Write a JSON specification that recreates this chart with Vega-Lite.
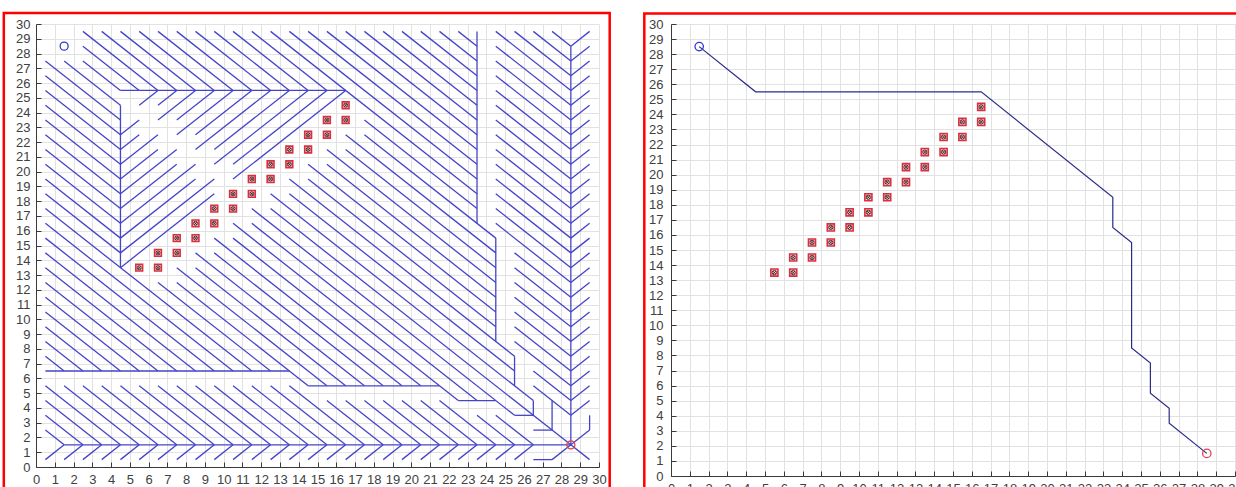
{
  "$schema": "https://vega.github.io/schema/vega-lite/v6.json",
  "background": "white",
  "padding": {"left": 2, "top": 11, "right": 0, "bottom": 0},
  "spacing": 32,
  "config": {
    "view": {"stroke": null},
    "axis": {
      "grid": true, "gridColor": "#e2e2e2", "gridWidth": 1, "tickCount": 30,
      "domainColor": "#3a3a3a", "tickColor": "#3a3a3a", "tickSize": -5,
      "labelColor": "#404040", "labelFont": "Liberation Sans", "labelFontSize": 13,
      "labelFlush": false, "labelOverlap": false, "title": null, "format": "d"
    }
  },
  "datasets": {
    "seg": [
      {"x":2.5,"y":29.5,"x2":6.5,"y2":25.5},{"x":3.5,"y":29.5,"x2":7.5,"y2":25.5},{"x":4.5,"y":29.5,"x2":8.5,"y2":25.5},
      {"x":5.5,"y":29.5,"x2":9.5,"y2":25.5},{"x":6.5,"y":29.5,"x2":10.5,"y2":25.5},{"x":7.5,"y":29.5,"x2":11.5,"y2":25.5},
      {"x":8.5,"y":29.5,"x2":12.5,"y2":25.5},{"x":9.5,"y":29.5,"x2":13.5,"y2":25.5},{"x":10.5,"y":29.5,"x2":14.5,"y2":25.5},
      {"x":11.5,"y":29.5,"x2":15.5,"y2":25.5},{"x":12.5,"y":29.5,"x2":23.5,"y2":18.5},{"x":13.5,"y":29.5,"x2":23.5,"y2":19.5},
      {"x":14.5,"y":29.5,"x2":23.5,"y2":20.5},{"x":15.5,"y":29.5,"x2":23.5,"y2":21.5},{"x":16.5,"y":29.5,"x2":23.5,"y2":22.5},
      {"x":17.5,"y":29.5,"x2":23.5,"y2":23.5},{"x":18.5,"y":29.5,"x2":23.5,"y2":24.5},{"x":19.5,"y":29.5,"x2":23.5,"y2":25.5},
      {"x":20.5,"y":29.5,"x2":23.5,"y2":26.5},{"x":21.5,"y":29.5,"x2":23.5,"y2":27.5},{"x":22.5,"y":29.5,"x2":23.5,"y2":28.5},
      {"x":24.5,"y":29.5,"x2":28.5,"y2":25.5},{"x":25.5,"y":29.5,"x2":28.5,"y2":26.5},{"x":26.5,"y":29.5,"x2":28.5,"y2":27.5},
      {"x":27.5,"y":29.5,"x2":28.5,"y2":28.5},{"x":29.5,"y":29.5,"x2":28.5,"y2":28.5},
      {"x":2.5,"y":28.5,"x2":5.5,"y2":25.5},{"x":2.5,"y":27.5,"x2":4.5,"y2":25.5},{"x":1.5,"y":27.5,"x2":4.5,"y2":24.5},
      {"x":0.5,"y":27.5,"x2":4.5,"y2":23.5},{"x":0.5,"y":26.5,"x2":4.5,"y2":22.5},{"x":0.5,"y":25.5,"x2":4.5,"y2":21.5},
      {"x":0.5,"y":24.5,"x2":4.5,"y2":20.5},{"x":0.5,"y":23.5,"x2":4.5,"y2":19.5},{"x":0.5,"y":22.5,"x2":4.5,"y2":18.5},
      {"x":0.5,"y":21.5,"x2":4.5,"y2":17.5},{"x":0.5,"y":20.5,"x2":4.5,"y2":16.5},{"x":0.5,"y":19.5,"x2":4.5,"y2":15.5},
      {"x":0.5,"y":18.5,"x2":4.5,"y2":14.5},{"x":0.5,"y":17.5,"x2":11.5,"y2":6.5},{"x":0.5,"y":16.5,"x2":10.5,"y2":6.5},
      {"x":0.5,"y":15.5,"x2":9.5,"y2":6.5},{"x":0.5,"y":14.5,"x2":8.5,"y2":6.5},{"x":0.5,"y":13.5,"x2":7.5,"y2":6.5},
      {"x":0.5,"y":12.5,"x2":6.5,"y2":6.5},{"x":0.5,"y":11.5,"x2":5.5,"y2":6.5},{"x":0.5,"y":10.5,"x2":4.5,"y2":6.5},
      {"x":0.5,"y":9.5,"x2":3.5,"y2":6.5},{"x":0.5,"y":8.5,"x2":2.5,"y2":6.5},{"x":0.5,"y":7.5,"x2":1.5,"y2":6.5},
      {"x":4.5,"y":24.5,"x2":4.5,"y2":13.5},{"x":4.5,"y":25.5,"x2":16.5,"y2":25.5},
      {"x":5.5,"y":23.5,"x2":4.5,"y2":22.5},{"x":5.5,"y":22.5,"x2":4.5,"y2":21.5},{"x":6.5,"y":22.5,"x2":4.5,"y2":20.5},
      {"x":6.5,"y":21.5,"x2":4.5,"y2":19.5},{"x":7.5,"y":21.5,"x2":4.5,"y2":18.5},{"x":7.5,"y":20.5,"x2":4.5,"y2":17.5},
      {"x":8.5,"y":20.5,"x2":4.5,"y2":16.5},{"x":8.5,"y":19.5,"x2":4.5,"y2":15.5},{"x":9.5,"y":19.5,"x2":4.5,"y2":14.5},
      {"x":9.5,"y":18.5,"x2":4.5,"y2":13.5},
      {"x":5.5,"y":24.5,"x2":6.5,"y2":25.5},{"x":6.5,"y":24.5,"x2":7.5,"y2":25.5},{"x":6.5,"y":23.5,"x2":8.5,"y2":25.5},
      {"x":7.5,"y":23.5,"x2":9.5,"y2":25.5},{"x":7.5,"y":22.5,"x2":10.5,"y2":25.5},{"x":8.5,"y":22.5,"x2":11.5,"y2":25.5},
      {"x":8.5,"y":21.5,"x2":12.5,"y2":25.5},{"x":9.5,"y":21.5,"x2":13.5,"y2":25.5},{"x":9.5,"y":20.5,"x2":14.5,"y2":25.5},
      {"x":10.5,"y":20.5,"x2":15.5,"y2":25.5},{"x":10.5,"y":19.5,"x2":16.5,"y2":25.5},
      {"x":6.5,"y":12.5,"x2":12.5,"y2":6.5},{"x":7.5,"y":12.5,"x2":14.5,"y2":5.5},{"x":7.5,"y":13.5,"x2":15.5,"y2":5.5},
      {"x":8.5,"y":13.5,"x2":16.5,"y2":5.5},{"x":8.5,"y":14.5,"x2":17.5,"y2":5.5},{"x":9.5,"y":14.5,"x2":18.5,"y2":5.5},
      {"x":9.5,"y":15.5,"x2":19.5,"y2":5.5},{"x":10.5,"y":15.5,"x2":20.5,"y2":5.5},{"x":10.5,"y":16.5,"x2":22.5,"y2":4.5},
      {"x":11.5,"y":16.5,"x2":23.5,"y2":4.5},{"x":11.5,"y":17.5,"x2":25.5,"y2":3.5},{"x":12.5,"y":17.5,"x2":28.5,"y2":1.5},
      {"x":12.5,"y":18.5,"x2":26.5,"y2":4.5},{"x":13.5,"y":18.5,"x2":25.5,"y2":6.5},{"x":13.5,"y":19.5,"x2":25.5,"y2":7.5},
      {"x":14.5,"y":19.5,"x2":24.5,"y2":9.5},{"x":14.5,"y":20.5,"x2":24.5,"y2":10.5},{"x":15.5,"y":20.5,"x2":24.5,"y2":11.5},
      {"x":15.5,"y":21.5,"x2":24.5,"y2":12.5},{"x":16.5,"y":21.5,"x2":24.5,"y2":13.5},{"x":16.5,"y":22.5,"x2":24.5,"y2":14.5},
      {"x":17.5,"y":22.5,"x2":24.5,"y2":15.5},{"x":17.5,"y":23.5,"x2":23.5,"y2":17.5},
      {"x":23.5,"y":29.5,"x2":23.5,"y2":16.5},{"x":24.5,"y":15.5,"x2":24.5,"y2":8.5},{"x":25.5,"y":7.5,"x2":25.5,"y2":5.5},
      {"x":26.5,"y":4.5,"x2":26.5,"y2":3.5},{"x":0.5,"y":6.5,"x2":13.5,"y2":6.5},{"x":14.5,"y":5.5,"x2":21.5,"y2":5.5},
      {"x":22.5,"y":4.5,"x2":24.5,"y2":4.5},{"x":25.5,"y":3.5,"x2":26.5,"y2":3.5},
      {"x":24.5,"y":28.5,"x2":28.5,"y2":24.5},{"x":24.5,"y":27.5,"x2":28.5,"y2":23.5},{"x":24.5,"y":26.5,"x2":28.5,"y2":22.5},
      {"x":24.5,"y":25.5,"x2":28.5,"y2":21.5},{"x":24.5,"y":24.5,"x2":28.5,"y2":20.5},{"x":24.5,"y":23.5,"x2":28.5,"y2":19.5},
      {"x":24.5,"y":22.5,"x2":28.5,"y2":18.5},{"x":24.5,"y":21.5,"x2":28.5,"y2":17.5},{"x":24.5,"y":20.5,"x2":28.5,"y2":16.5},
      {"x":24.5,"y":19.5,"x2":28.5,"y2":15.5},{"x":24.5,"y":18.5,"x2":28.5,"y2":14.5},{"x":24.5,"y":17.5,"x2":28.5,"y2":13.5},
      {"x":24.5,"y":16.5,"x2":28.5,"y2":12.5},
      {"x":25.5,"y":14.5,"x2":28.5,"y2":11.5},{"x":25.5,"y":13.5,"x2":28.5,"y2":10.5},{"x":25.5,"y":12.5,"x2":28.5,"y2":9.5},
      {"x":25.5,"y":11.5,"x2":28.5,"y2":8.5},{"x":25.5,"y":10.5,"x2":28.5,"y2":7.5},{"x":25.5,"y":9.5,"x2":28.5,"y2":6.5},
      {"x":25.5,"y":8.5,"x2":28.5,"y2":5.5},{"x":26.5,"y":6.5,"x2":28.5,"y2":4.5},{"x":26.5,"y":5.5,"x2":28.5,"y2":3.5},
      {"x":29.5,"y":28.5,"x2":28.5,"y2":27.5},{"x":29.5,"y":27.5,"x2":28.5,"y2":26.5},{"x":29.5,"y":26.5,"x2":28.5,"y2":25.5},
      {"x":29.5,"y":25.5,"x2":28.5,"y2":24.5},{"x":29.5,"y":24.5,"x2":28.5,"y2":23.5},{"x":29.5,"y":23.5,"x2":28.5,"y2":22.5},
      {"x":29.5,"y":22.5,"x2":28.5,"y2":21.5},{"x":29.5,"y":21.5,"x2":28.5,"y2":20.5},{"x":29.5,"y":20.5,"x2":28.5,"y2":19.5},
      {"x":29.5,"y":19.5,"x2":28.5,"y2":18.5},{"x":29.5,"y":18.5,"x2":28.5,"y2":17.5},{"x":29.5,"y":17.5,"x2":28.5,"y2":16.5},
      {"x":29.5,"y":16.5,"x2":28.5,"y2":15.5},{"x":29.5,"y":15.5,"x2":28.5,"y2":14.5},{"x":29.5,"y":14.5,"x2":28.5,"y2":13.5},
      {"x":29.5,"y":13.5,"x2":28.5,"y2":12.5},{"x":29.5,"y":12.5,"x2":28.5,"y2":11.5},{"x":29.5,"y":11.5,"x2":28.5,"y2":10.5},
      {"x":29.5,"y":10.5,"x2":28.5,"y2":9.5},{"x":29.5,"y":9.5,"x2":28.5,"y2":8.5},{"x":29.5,"y":8.5,"x2":28.5,"y2":7.5},
      {"x":29.5,"y":7.5,"x2":28.5,"y2":6.5},{"x":29.5,"y":6.5,"x2":28.5,"y2":5.5},{"x":29.5,"y":5.5,"x2":28.5,"y2":4.5},
      {"x":29.5,"y":4.5,"x2":28.5,"y2":3.5},
      {"x":28.5,"y":28.5,"x2":28.5,"y2":1.5},{"x":29.5,"y":3.5,"x2":29.5,"y2":2.5},{"x":29.5,"y":2.5,"x2":28.5,"y2":1.5},
      {"x":27.5,"y":4.5,"x2":27.5,"y2":2.5},{"x":26.5,"y":2.5,"x2":27.5,"y2":2.5},{"x":28.5,"y":1.5,"x2":29.5,"y2":0.5},
      {"x":0.5,"y":5.5,"x2":4.5,"y2":1.5},{"x":1.5,"y":5.5,"x2":5.5,"y2":1.5},{"x":2.5,"y":5.5,"x2":6.5,"y2":1.5},
      {"x":3.5,"y":5.5,"x2":7.5,"y2":1.5},{"x":4.5,"y":5.5,"x2":8.5,"y2":1.5},{"x":5.5,"y":5.5,"x2":9.5,"y2":1.5},
      {"x":6.5,"y":5.5,"x2":10.5,"y2":1.5},{"x":7.5,"y":5.5,"x2":11.5,"y2":1.5},{"x":8.5,"y":5.5,"x2":12.5,"y2":1.5},
      {"x":9.5,"y":5.5,"x2":13.5,"y2":1.5},{"x":10.5,"y":5.5,"x2":14.5,"y2":1.5},{"x":11.5,"y":5.5,"x2":15.5,"y2":1.5},
      {"x":12.5,"y":5.5,"x2":16.5,"y2":1.5},{"x":13.5,"y":5.5,"x2":17.5,"y2":1.5},
      {"x":0.5,"y":4.5,"x2":3.5,"y2":1.5},{"x":0.5,"y":3.5,"x2":2.5,"y2":1.5},{"x":0.5,"y":2.5,"x2":1.5,"y2":1.5},
      {"x":15.5,"y":4.5,"x2":18.5,"y2":1.5},{"x":16.5,"y":4.5,"x2":19.5,"y2":1.5},{"x":17.5,"y":4.5,"x2":20.5,"y2":1.5},
      {"x":18.5,"y":4.5,"x2":21.5,"y2":1.5},{"x":19.5,"y":4.5,"x2":22.5,"y2":1.5},{"x":20.5,"y":4.5,"x2":23.5,"y2":1.5},
      {"x":21.5,"y":4.5,"x2":24.5,"y2":1.5},{"x":23.5,"y":3.5,"x2":25.5,"y2":1.5},{"x":24.5,"y":3.5,"x2":26.5,"y2":1.5},
      {"x":0.5,"y":0.5,"x2":1.5,"y2":1.5},{"x":1.5,"y":0.5,"x2":2.5,"y2":1.5},{"x":2.5,"y":0.5,"x2":3.5,"y2":1.5},
      {"x":3.5,"y":0.5,"x2":4.5,"y2":1.5},{"x":4.5,"y":0.5,"x2":5.5,"y2":1.5},{"x":5.5,"y":0.5,"x2":6.5,"y2":1.5},
      {"x":6.5,"y":0.5,"x2":7.5,"y2":1.5},{"x":7.5,"y":0.5,"x2":8.5,"y2":1.5},{"x":8.5,"y":0.5,"x2":9.5,"y2":1.5},
      {"x":9.5,"y":0.5,"x2":10.5,"y2":1.5},{"x":10.5,"y":0.5,"x2":11.5,"y2":1.5},{"x":11.5,"y":0.5,"x2":12.5,"y2":1.5},
      {"x":12.5,"y":0.5,"x2":13.5,"y2":1.5},{"x":13.5,"y":0.5,"x2":14.5,"y2":1.5},{"x":14.5,"y":0.5,"x2":15.5,"y2":1.5},
      {"x":15.5,"y":0.5,"x2":16.5,"y2":1.5},{"x":16.5,"y":0.5,"x2":17.5,"y2":1.5},{"x":17.5,"y":0.5,"x2":18.5,"y2":1.5},
      {"x":18.5,"y":0.5,"x2":19.5,"y2":1.5},{"x":19.5,"y":0.5,"x2":20.5,"y2":1.5},{"x":20.5,"y":0.5,"x2":21.5,"y2":1.5},
      {"x":21.5,"y":0.5,"x2":22.5,"y2":1.5},{"x":22.5,"y":0.5,"x2":23.5,"y2":1.5},{"x":23.5,"y":0.5,"x2":24.5,"y2":1.5},
      {"x":24.5,"y":0.5,"x2":25.5,"y2":1.5},{"x":25.5,"y":0.5,"x2":26.5,"y2":1.5},
      {"x":26.5,"y":0.5,"x2":27.5,"y2":0.5},{"x":27.5,"y":0.5,"x2":28.5,"y2":1.5},{"x":1.5,"y":1.5,"x2":28.5,"y2":1.5}
    ],
    "path": [
      {"i":0,"x":1.5,"y":28.5},{"i":1,"x":4.5,"y":25.5},{"i":2,"x":16.5,"y":25.5},{"i":3,"x":23.5,"y":18.5},
      {"i":4,"x":23.5,"y":16.5},{"i":5,"x":24.5,"y":15.5},{"i":6,"x":24.5,"y":8.5},{"i":7,"x":25.5,"y":7.5},
      {"i":8,"x":25.5,"y":5.5},{"i":9,"x":26.5,"y":4.5},{"i":10,"x":26.5,"y":3.5},{"i":11,"x":28.5,"y":1.5}
    ],
    "obs": [
      {"x":5.5,"y":13.5},{"x":6.5,"y":13.5},{"x":6.5,"y":14.5},{"x":7.5,"y":14.5},{"x":7.5,"y":15.5},{"x":8.5,"y":15.5},
      {"x":8.5,"y":16.5},{"x":9.5,"y":16.5},{"x":9.5,"y":17.5},{"x":10.5,"y":17.5},{"x":10.5,"y":18.5},{"x":11.5,"y":18.5},
      {"x":11.5,"y":19.5},{"x":12.5,"y":19.5},{"x":12.5,"y":20.5},{"x":13.5,"y":20.5},{"x":13.5,"y":21.5},{"x":14.5,"y":21.5},
      {"x":14.5,"y":22.5},{"x":15.5,"y":22.5},{"x":15.5,"y":23.5},{"x":16.5,"y":23.5},{"x":16.5,"y":24.5}
    ],
    "ends": [{"k":"start","x":1.5,"y":28.5},{"k":"goal","x":28.5,"y":1.5}]
  },
  "hconcat": [
    {
      "width": 563, "height": 443,
      "layer": [
        {
          "data": {"name": "seg"},
          "mark": {"type": "rule", "color": "#4444c8", "strokeWidth": 1.3},
          "encoding": {
            "x": {"field": "x", "type": "quantitative", "scale": {"domain": [0, 30], "nice": false, "zero": false},
                  "axis": {"labelPadding": 11}},
            "y": {"field": "y", "type": "quantitative", "scale": {"domain": [0, 30], "nice": false, "zero": false},
                  "axis": {"labelPadding": 11}},
            "x2": {"field": "x2"}, "y2": {"field": "y2"}
          }
        },
        {
          "data": {"name": "obs"},
          "mark": {"type": "point", "shape": "square", "size": 46, "filled": true, "fill": "#f6d2d2", "stroke": "#d8303c", "strokeWidth": 1.6, "opacity": 1},
          "encoding": {"x": {"field": "x", "type": "quantitative"}, "y": {"field": "y", "type": "quantitative"}}
        },
        {
          "data": {"name": "obs"},
          "mark": {"type": "point", "shape": "circle", "size": 16, "filled": false, "stroke": "#3a1020", "strokeWidth": 0.8, "opacity": 1},
          "encoding": {"x": {"field": "x", "type": "quantitative"}, "y": {"field": "y", "type": "quantitative"}}
        },
        {
          "data": {"name": "obs"},
          "mark": {"type": "point", "shape": "M-1,-1L1,1M-1,1L1,-1", "size": 10, "filled": false, "stroke": "#3a1020", "strokeWidth": 0.8, "opacity": 1},
          "encoding": {"x": {"field": "x", "type": "quantitative"}, "y": {"field": "y", "type": "quantitative"}}
        },
        {
          "data": {"name": "ends"},
          "mark": {"type": "point", "shape": "circle", "size": 64, "filled": false, "strokeWidth": 1.3, "opacity": 1},
          "encoding": {
            "x": {"field": "x", "type": "quantitative"}, "y": {"field": "y", "type": "quantitative"},
            "color": {"field": "k", "type": "nominal", "scale": {"domain": ["start", "goal"], "range": ["#3636d0", "#e2404a"]}, "legend": null}
          }
        },
        {
          "data": {"values": [{}]},
          "mark": {"type": "rect", "fillOpacity": 0, "stroke": "#ff0000", "strokeWidth": 2.5, "clip": false},
          "encoding": {
            "x": {"datum": -1.715, "type": "quantitative"}, "x2": {"datum": 30.57},
            "y": {"datum": 30.74, "type": "quantitative"}, "y2": {"datum": -3}
          }
        }
      ]
    },
    {
      "width": 564, "height": 452,
      "layer": [
        {
          "data": {"name": "path"},
          "mark": {"type": "line", "color": "#2c2c88", "strokeWidth": 1.2},
          "encoding": {
            "x": {"field": "x", "type": "quantitative", "scale": {"domain": [0, 30], "nice": false, "zero": false},
                  "axis": {"labelPadding": 11}},
            "y": {"field": "y", "type": "quantitative", "scale": {"domain": [0, 30], "nice": false, "zero": false},
                  "axis": {"labelPadding": 13}},
            "order": {"field": "i", "type": "quantitative"}
          }
        },
        {
          "data": {"name": "obs"},
          "mark": {"type": "point", "shape": "square", "size": 50, "filled": true, "fill": "#f6d2d2", "stroke": "#d8303c", "strokeWidth": 1.6, "opacity": 1},
          "encoding": {"x": {"field": "x", "type": "quantitative"}, "y": {"field": "y", "type": "quantitative"}}
        },
        {
          "data": {"name": "obs"},
          "mark": {"type": "point", "shape": "circle", "size": 18, "filled": false, "stroke": "#3a1020", "strokeWidth": 0.8, "opacity": 1},
          "encoding": {"x": {"field": "x", "type": "quantitative"}, "y": {"field": "y", "type": "quantitative"}}
        },
        {
          "data": {"name": "obs"},
          "mark": {"type": "point", "shape": "M-1,-1L1,1M-1,1L1,-1", "size": 11, "filled": false, "stroke": "#3a1020", "strokeWidth": 0.8, "opacity": 1},
          "encoding": {"x": {"field": "x", "type": "quantitative"}, "y": {"field": "y", "type": "quantitative"}}
        },
        {
          "data": {"name": "ends"},
          "mark": {"type": "point", "shape": "circle", "size": 70, "filled": false, "strokeWidth": 1.3, "opacity": 1},
          "encoding": {
            "x": {"field": "x", "type": "quantitative"}, "y": {"field": "y", "type": "quantitative"},
            "color": {"field": "k", "type": "nominal", "scale": {"domain": ["start", "goal"], "range": ["#3636d0", "#e2404a"]}, "legend": null}
          }
        },
        {
          "data": {"values": [{}]},
          "mark": {"type": "rect", "fillOpacity": 0, "stroke": "#ff0000", "strokeWidth": 2.5, "clip": false},
          "encoding": {
            "x": {"datum": -1.42, "type": "quantitative"}, "x2": {"datum": 32},
            "y": {"datum": 30.69, "type": "quantitative"}, "y2": {"datum": -3}
          }
        }
      ]
    }
  ]
}
